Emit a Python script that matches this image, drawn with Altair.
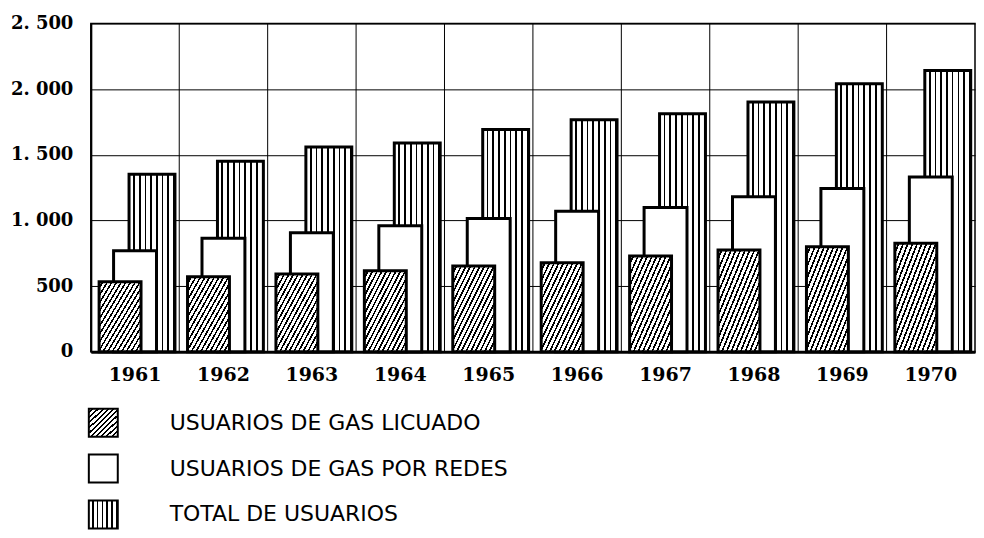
import altair as alt
import pandas as pd

# ---- data ----
years = ["1961", "1962", "1963", "1964", "1965", "1966", "1967", "1968", "1969", "1970"]
licuado = [534, 572, 593, 618, 653, 679, 729, 775, 800, 826]
redes = [770, 864, 907, 960, 1016, 1071, 1099, 1180, 1243, 1332]
total = [1353, 1451, 1560, 1590, 1692, 1768, 1813, 1902, 2041, 2143]
y_ticks = [0, 500, 1000, 1500, 2000, 2500]
legend_labels = [
    "USUARIOS DE GAS LICUADO",
    "USUARIOS DE GAS POR REDES",
    "TOTAL DE USUARIOS",
]

df = pd.DataFrame({"year": years, "licuado": licuado, "redes": redes, "total": total})
legend_df = pd.DataFrame({"label": legend_labels})


def stripes(n, frac_black, x2, y2):
    stops = []
    for i in range(n):
        a = i / n
        b = (i + 1 - frac_black) / n
        c = min((i + 1) / n, 1.0)
        stops += [
            {"offset": round(a, 4), "color": "white"},
            {"offset": round(b, 4), "color": "white"},
            {"offset": round(b, 4), "color": "black"},
            {"offset": round(c, 4), "color": "black"},
        ]
    return {"gradient": "linear", "x1": 0, "y1": 0, "x2": x2, "y2": y2, "stops": stops}


vstripes = stripes(8, 0.3, 1, 0)
hatch = stripes(18, 0.38, 1, 1)
vstripes_leg = stripes(6, 0.35, 1, 0)
hatch_leg = stripes(11, 0.4, 1, 1)

serif = "DejaVu Serif"
sans = "DejaVu Sans"

x_scale = alt.Scale(paddingInner=0, paddingOuter=0)
y_scale = alt.Scale(domain=[0, 2500], nice=False)

x_axis = alt.Axis(
    title=None, labelAngle=0, ticks=False, grid=False,
    domainColor="black", domainWidth=3,
    labelFont=serif, labelFontSize=19, labelFontWeight="bold",
    labelColor="black", labelPadding=14,
    minExtent=30, maxExtent=30,
)
y_axis = alt.Axis(
    title=None, values=y_ticks, ticks=False, grid=True,
    gridColor="black", gridWidth=1, gridOpacity=1,
    domainColor="black", domainWidth=2,
    labelFont=serif, labelFontSize=18, labelFontWeight="bold",
    labelColor="black", labelPadding=18,
    labelExpr="replace(format(datum.value, ','), ',', '. ')",
    minExtent=82, maxExtent=82,
)

x_enc = alt.X("year:N", sort=years, scale=x_scale, axis=x_axis)

grid_rules = (
    alt.Chart(df)
    .transform_filter(alt.datum.year != years[0])
    .mark_rule(color="black", strokeWidth=1)
    .encode(x=alt.X("year:N", sort=years, scale=x_scale, bandPosition=0, axis=x_axis))
)

bars_total = alt.Chart(df).mark_bar(
    width=46, xOffset=17, fill=vstripes, stroke="black", strokeWidth=3
).encode(x=x_enc, y=alt.Y("total:Q", scale=y_scale, axis=y_axis))

bars_redes = alt.Chart(df).mark_bar(
    width=43, xOffset=0, fill="white", stroke="black", strokeWidth=3
).encode(x=x_enc, y=alt.Y("redes:Q", scale=y_scale, axis=y_axis))

bars_licuado = alt.Chart(df).mark_bar(
    width=42, xOffset=-15, fill=hatch, stroke="black", strokeWidth=3
).encode(x=x_enc, y=alt.Y("licuado:Q", scale=y_scale, axis=y_axis))

top = alt.layer(grid_rules, bars_total, bars_redes, bars_licuado).properties(
    width=886, height=329,
    view=alt.ViewBackground(stroke="black", strokeWidth=1.5),
)

leg_y = alt.Y(
    "label:N", sort=legend_labels,
    scale=alt.Scale(paddingInner=0.391, paddingOuter=0), axis=None,
)

fills = [hatch_leg, "white", vstripes_leg]
swatches = []
for lab, f in zip(legend_labels, fills):
    swatches.append(
        alt.Chart(legend_df)
        .transform_filter(alt.datum.label == lab)
        .mark_rect(fill=f, stroke="black", strokeWidth=2)
        .encode(x=alt.value(-2), x2=alt.value(27), y=leg_y)
    )

leg_text = alt.Chart(legend_df).mark_text(
    align="left", baseline="middle", font=sans, fontSize=22, color="black"
).encode(x=alt.value(79), y=leg_y, text="label:N")

legend = alt.layer(*swatches, leg_text).properties(
    width=886, height=120,
    view=alt.ViewBackground(stroke="transparent", strokeWidth=0),
)

chart = (
    alt.vconcat(top, legend, spacing=22)
    .properties(padding={"left": 0, "top": 5, "right": 0, "bottom": 0})
    .configure_view(stroke="transparent")
    .configure(background="white")
)

chart.save("out.html", embed_options={"renderer": "svg", "actions": False})
